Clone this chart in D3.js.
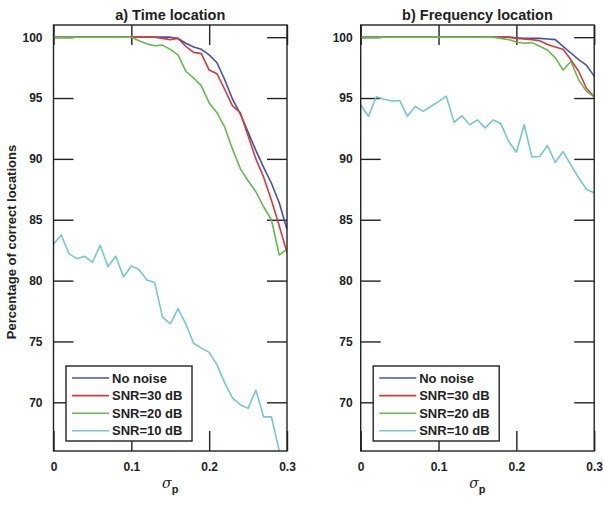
<!DOCTYPE html>
<meta charset="utf-8">
<script src="https://d3js.org/d3.v7.min.js"></script>
<style>
  body { margin: 0; background: #fff; }
  text { font-family: "Liberation Sans", Arial, sans-serif; fill: #222; }
</style>
<div id="my_dataviz"></div>
<script>
// sigma_p values (x)
var sigma = [0, 0.01, 0.02, 0.03, 0.04, 0.05, 0.06, 0.07, 0.08, 0.09, 0.10,
             0.11, 0.12, 0.13, 0.14, 0.15, 0.16, 0.17, 0.18, 0.19, 0.20,
             0.21, 0.22, 0.23, 0.24, 0.25, 0.26, 0.27, 0.28, 0.29, 0.30];

var seriesNames = ["No noise", "SNR=30 dB", "SNR=20 dB", "SNR=10 dB"];
var colors = ["#4352a4", "#d8383c", "#64b94f", "#74c8cc"];

// a) Time location
var timeNoNoise = [100, 100, 100, 100, 100, 100, 100, 100, 100, 100, 100,
                   100, 100, 100, 100, 100, 99.9, 99.5, 99.2, 99.0, 98.55,
                   97.9, 96.5, 94.9, 93.7, 92.2, 90.7, 89.3, 88.0, 86.4, 84.2];
var timeSnr30 = [100, 100, 100, 100, 100, 100, 100, 100, 100, 100, 100,
                 100, 100, 100, 99.9, 99.8, 99.9, 99.25, 98.75, 98.65, 97.3,
                 97.0, 95.7, 94.35, 93.8, 91.9, 90.0, 88.5, 86.6, 84.5, 82.3];
var timeSnr20 = [100, 100, 100, 100, 100, 100, 100, 100, 100, 100, 100,
                 99.7, 99.45, 99.3, 99.35, 99.0, 98.55, 97.2, 96.65, 96.0, 94.6,
                 93.8, 92.6, 90.8, 89.2, 88.2, 87.3, 86.05, 85.0, 82.1, 82.6];
var timeSnr10 = [83.0, 83.75, 82.2, 81.8, 82.0, 81.5, 82.9, 81.15, 82.0, 80.3, 81.2,
                 80.9, 80.05, 79.85, 77.0, 76.45, 77.7, 76.45, 74.85, 74.45, 74.1,
                 73.1, 71.6, 70.35, 69.8, 69.5, 71.0, 68.8, 68.8, 66.0, 64.0];

// b) Frequency location
var freqNoNoise = [100, 100, 100, 100, 100, 100, 100, 100, 100, 100, 100,
                   100, 100, 100, 100, 100, 100, 100, 100, 100, 99.95,
                   99.9, 99.9, 99.9, 99.85, 99.8, 99.25, 98.7, 98.15, 97.7, 96.8];
var freqSnr30 = [100, 100, 100, 100, 100, 100, 100, 100, 100, 100, 100,
                 100, 100, 100, 100, 100, 100, 100, 100, 100, 99.9,
                 99.85, 99.8, 99.7, 99.4, 99.2, 99.0, 98.15, 97.2, 95.8, 95.1];
var freqSnr20 = [100, 100, 100, 100, 100, 100, 100, 100, 100, 100, 100,
                 100, 100, 100, 100, 100, 100, 100, 99.9, 99.8, 99.6,
                 99.5, 99.55, 99.25, 98.95, 98.3, 97.3, 98.0, 96.5, 95.55, 95.1];
var freqSnr10 = [94.45, 93.5, 95.1, 94.9, 94.75, 94.8, 93.5, 94.3, 93.9, 94.3, 94.7,
                 95.15, 93.0, 93.55, 92.8, 93.2, 92.55, 93.2, 92.9, 91.45, 90.55,
                 92.8, 90.15, 90.2, 91.1, 89.7, 90.6, 89.5, 88.45, 87.5, 87.2];

var xTicks = [0, 0.1, 0.2, 0.3];
var yTicks = [70, 75, 80, 85, 90, 95, 100];

var panels = [
  {title: "a) Time location", left: 53.5, series: [timeNoNoise, timeSnr30, timeSnr20, timeSnr10]},
  {title: "b) Frequency location", left: 360.7, series: [freqNoNoise, freqSnr30, freqSnr20, freqSnr10]}
];

var W = 603, H = 506;
var plotW = 233.5, plotTop = 25, plotBottom = 451;

var svg = d3.select("#my_dataviz")
  .append("svg")
    .attr("width", W)
    .attr("height", H);

var y = d3.scaleLinear().domain([66, 101]).range([plotBottom, plotTop]);

panels.forEach(function(p, pi) {
  var x = d3.scaleLinear().domain([0, 0.3]).range([p.left, p.left + plotW]);
  var g = svg.append("g");

  // clip
  var clipId = "clip" + pi;
  svg.append("clipPath").attr("id", clipId)
    .append("rect")
      .attr("x", p.left).attr("y", plotTop)
      .attr("width", plotW).attr("height", plotBottom - plotTop);

  // axes (ticks inward, mirrored)
  var tl = 20;
  var axB = g.append("g").attr("transform", "translate(0," + plotBottom + ")")
    .call(d3.axisBottom(x).tickValues(xTicks).tickSizeInner(-tl).tickSizeOuter(0)
      .tickFormat(function(d) { return d === 0 ? "0" : d3.format(".1f")(d); }).tickPadding(11));
  var axT = g.append("g").attr("transform", "translate(0," + plotTop + ")")
    .call(d3.axisTop(x).tickValues(xTicks).tickSizeInner(-tl).tickSizeOuter(0).tickFormat(""));
  var axL = g.append("g").attr("transform", "translate(" + p.left + ",0)")
    .call(d3.axisLeft(y).tickValues(yTicks).tickSizeInner(-tl).tickSizeOuter(0)
      .tickPadding(pi === 0 ? 11 : 8));
  var axR = g.append("g").attr("transform", "translate(" + (p.left + plotW) + ",0)")
    .call(d3.axisRight(y).tickValues(yTicks).tickSizeInner(-tl).tickSizeOuter(0).tickFormat(""));

  [axB, axT, axL, axR].forEach(function(a) {
    a.select(".domain").remove();
    a.selectAll("line").attr("stroke", "#222").attr("stroke-width", 1.4);
    a.selectAll("text")
      .style("font-size", "12px").style("font-weight", "bold").attr("fill", "#222");
  });

  // lines
  var line = d3.line()
    .x(function(d, i) { return x(sigma[i]); })
    .y(function(d) { return y(d); });
  var lg = g.append("g").attr("clip-path", "url(#" + clipId + ")");
  p.series.forEach(function(s, si) {
    lg.append("path")
      .datum(s)
      .attr("fill", "none")
      .attr("stroke", colors[si])
      .attr("stroke-width", 1.6)
      .attr("stroke-linejoin", "round")
      .attr("d", line);
  });

  // box
  g.append("rect")
    .attr("x", p.left).attr("y", plotTop)
    .attr("width", plotW).attr("height", plotBottom - plotTop)
    .attr("fill", "none").attr("stroke", "#222").attr("stroke-width", 1.4);

  // title
  g.append("text")
    .attr("x", p.left + plotW / 2).attr("y", 20)
    .attr("text-anchor", "middle")
    .style("font-size", "14.5px").style("font-weight", "bold")
    .text(p.title);

  // x label sigma_p
  var xl = g.append("text")
    .attr("x", p.left + plotW / 2).attr("y", 488)
    .attr("text-anchor", "middle")
    .style("font-size", "14px");
  xl.append("tspan").style("font-family", "DejaVu Serif").style("font-style", "italic").text("σ");
  xl.append("tspan").attr("dy", 5).style("font-size", "11px").style("font-weight", "bold").text("p");

  // legend
  var lx = p.left + 12.5, ly = 366;
  var leg = g.append("g");
  leg.append("rect")
    .attr("x", lx).attr("y", ly).attr("width", 126).attr("height", 75)
    .attr("fill", "#fff").attr("stroke", "#222").attr("stroke-width", 1.4);
  seriesNames.forEach(function(name, si) {
    var yy = ly + 12 + si * 17.6;
    leg.append("line")
      .attr("x1", lx + 6).attr("x2", lx + 43)
      .attr("y1", yy).attr("y2", yy)
      .attr("stroke", colors[si]).attr("stroke-width", 1.6);
    leg.append("text")
      .attr("x", lx + 46).attr("y", yy + 4.5)
      .style("font-size", "13px").style("font-weight", "bold")
      .text(name);
  });
});

// y label
svg.append("text")
  .attr("transform", "translate(16,242) rotate(-90)")
  .attr("text-anchor", "middle")
  .style("font-size", "13px").style("font-weight", "bold")
  .text("Percentage of correct locations");
</script>
